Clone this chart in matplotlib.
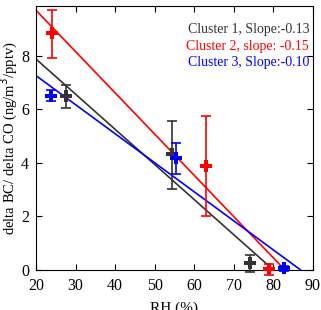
import numpy as np
import matplotlib
matplotlib.use("Agg")
from matplotlib import pyplot as plt

plt.rcParams['font.family'] = ['Liberation Serif', 'DejaVu Serif']

# cluster data: RH (%), ratio, lower/upper error
rh1 = [27.5, 54.3, 74.0]
val1 = [6.5, 4.32, 0.25]
err1_lo = [0.43, 1.29, 0.31]
err1_hi = [0.42, 1.23, 0.31]

rh2 = [24.0, 62.9, 79.0]
val2 = [8.85, 3.9, 0.03]
err2_lo = [0.91, 1.88, 0.2]
err2_hi = [0.87, 1.87, 0.2]

rh3 = [23.7, 55.3, 82.7]
val3 = [6.52, 4.17, 0.06]
err3_lo = [0.22, 0.59, 0.1]
err3_hi = [0.2, 0.59, 0.1]

labels = ["Cluster 1, Slope:-0.13", "Cluster 2, slope: -0.15", "Cluster 3, Slope:-0.10"]
colors = ["#333333", "#ff0000", "#0000ff"]

fig = plt.figure(figsize=(3.21, 3.10), dpi=100)
ax = fig.add_axes([0.112, 0.129, 0.863, 0.853])

series = [(rh1, val1, err1_lo, err1_hi), (rh2, val2, err2_lo, err2_hi), (rh3, val3, err3_lo, err3_hi)]
for (x, y, lo, hi), c in zip(series, colors):
    x = np.array(x)
    y = np.array(y)
    # linear fit, drawn from RH=20 down to zero
    k, b = np.polyfit(x, y, 1)
    x0 = -b / k
    xs = np.array([20, x0])
    ax.plot(xs, k * xs + b, color=c, lw=1.2, zorder=2)
    ax.errorbar(x, y, yerr=[lo, hi], fmt='none', ecolor=c, elinewidth=1.2,
                capsize=3.5, capthick=1.2, zorder=3, clip_on=False)
    ax.plot(x, y, 'P', color=c, markersize=8.5, markeredgewidth=0, zorder=4, clip_on=False)

for i, (t, c) in enumerate(zip(labels, colors)):
    ax.text(0.986, 0.908 - i * 0.061, t, color=c, fontsize=10, ha='right', va='center',
            transform=ax.transAxes)

ax.set_xlim(20, 90)
ax.set_ylim(0, 9.88)
ax.set_xticks(range(20, 91, 10))
ax.set_yticks(range(0, 9, 2))
ax.tick_params(direction='in', top=True, right=True, labelsize=11.5, length=4)
ax.tick_params(axis='x', pad=6)
ax.tick_params(axis='y', pad=5)
ax.set_xlabel("RH (%)", fontsize=11, labelpad=5)
ax.set_ylabel("delta BC/ delta CO (ng/m$^3$/pptv)", fontsize=10.5, labelpad=1)

fig.savefig("out.png", dpi=100)
